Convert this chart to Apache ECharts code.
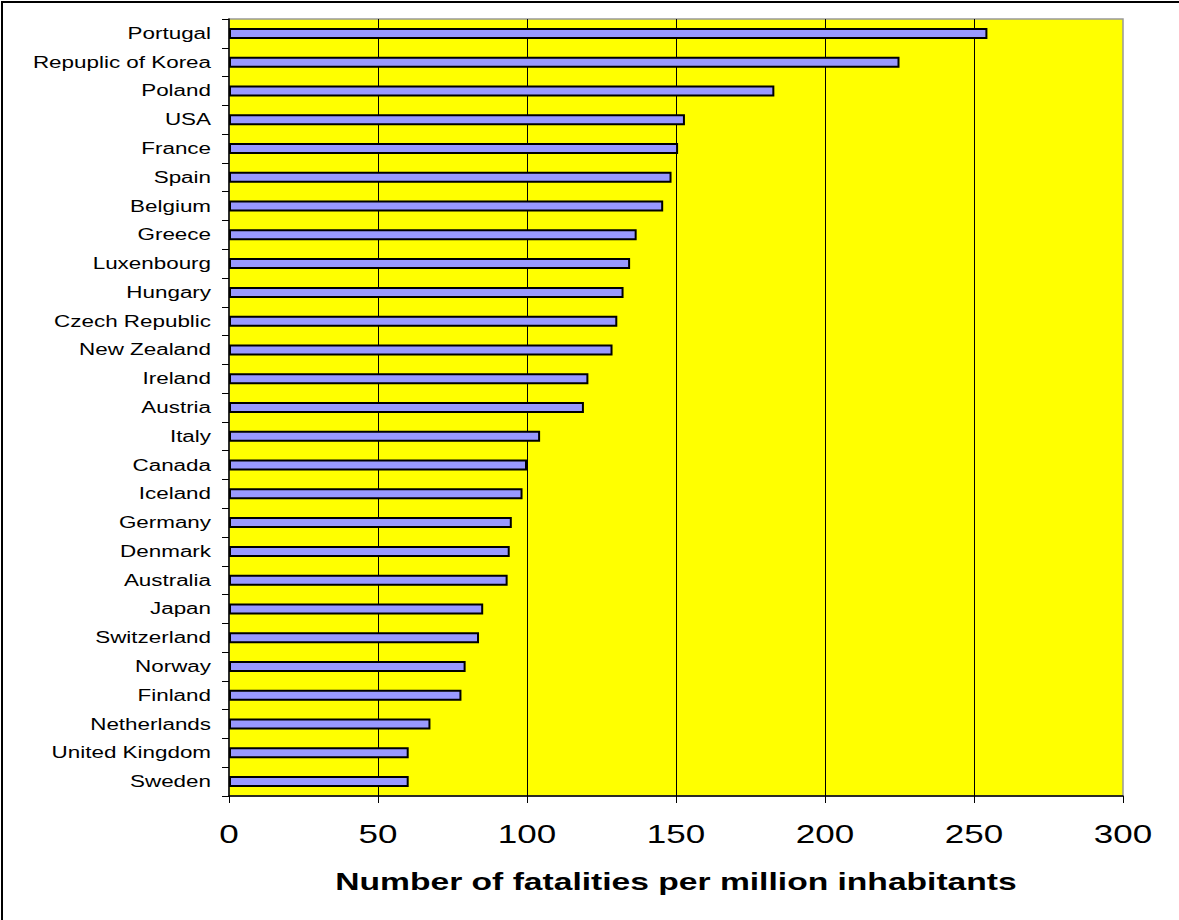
<!DOCTYPE html>
<html>
<head>
<meta charset="utf-8">
<script src="https://cdn.jsdelivr.net/npm/echarts@6/dist/echarts.min.js"></script>
<style>
  html, body { margin: 0; padding: 0; background: #fff; }
  #main { width: 1179px; height: 920px; }
</style>
</head>
<body>
<div id="main"></div>
<script>
// countries, top to bottom
var countries = ['Portugal', 'Repuplic of Korea', 'Poland', 'USA', 'France', 'Spain', 'Belgium',
  'Greece', 'Luxenbourg', 'Hungary', 'Czech Republic', 'New Zealand', 'Ireland', 'Austria',
  'Italy', 'Canada', 'Iceland', 'Germany', 'Denmark', 'Australia', 'Japan', 'Switzerland',
  'Norway', 'Finland', 'Netherlands', 'United Kingdom', 'Sweden'];
// fatalities per million inhabitants
var fatalities = [254.5, 225, 183, 153, 150.7, 148.5, 145.7,
  136.8, 134.6, 132.4, 130.3, 128.7, 120.6, 119.1,
  104.4, 100, 98.5, 94.9, 94.2, 93.5, 85.3, 83.9,
  79.4, 78, 67.6, 60.3, 60.3];
var xTicks = [0, 50, 100, 150, 200, 250, 300];

var font = 'Arial, "Liberation Sans", sans-serif';
var myChart = echarts.init(document.getElementById('main'), null, { renderer: 'svg' });

var option = {
    backgroundColor: '#ffffff',
    animation: false,
    graphic: [{
        type: 'rect',
        shape: { x: 2, y: 2, width: 1300, height: 1100 },
        style: { fill: 'none', stroke: '#000', lineWidth: 2 },
        silent: true
    }],
    grid: {
        left: 229,
        right: 56,
        top: 19,
        bottom: 124,
        show: true,
        backgroundColor: '#ffff00',
        borderColor: '#999999',
        borderWidth: 1.5
    },
    xAxis: {
        type: 'value',
        min: xTicks[0],
        max: xTicks[xTicks.length - 1],
        interval: 50,
        name: 'Number of fatalities per million inhabitants',
        nameLocation: 'middle',
        nameGap: 73,
        nameTextStyle: { fontFamily: font, fontSize: 24, fontWeight: 'bold', color: '#000' },
        axisLine: { show: true, lineStyle: { color: '#000', width: 1.5 } },
        axisTick: { show: true, length: 7, lineStyle: { color: '#000' } },
        axisLabel: { fontFamily: font, fontSize: 25, color: '#000', margin: 25 },
        splitLine: { show: true, showMinLine: false, showMaxLine: false, lineStyle: { color: '#000', width: 1 } }
    },
    yAxis: {
        type: 'category',
        data: countries,
        inverse: true,
        axisLine: { show: true, lineStyle: { color: '#000', width: 1.5 } },
        axisTick: { show: true, length: 7, lineStyle: { color: '#000' } },
        axisLabel: { fontFamily: font, fontSize: 16, color: '#000', margin: 18 },
        splitLine: { show: false }
    },
    series: [{
        type: 'bar',
        data: fatalities,
        barWidth: 11,
        itemStyle: { color: '#9999ff', borderColor: '#000', borderWidth: 2 }
    }]
};

// the original text is drawn stretched sideways, so widen the glyphs
function stretchText() {
    var texts = document.querySelectorAll('#main svg text');
    texts.forEach(function (t) {
        if (t.getAttribute('lengthAdjust')) return;
        var w = t.getComputedTextLength();
        t.setAttribute('textLength', (w * 1.4).toFixed(1));
        t.setAttribute('lengthAdjust', 'spacingAndGlyphs');
    });
}
myChart.on('finished', stretchText);
myChart.setOption(option);
stretchText();
</script>
</body>
</html>
